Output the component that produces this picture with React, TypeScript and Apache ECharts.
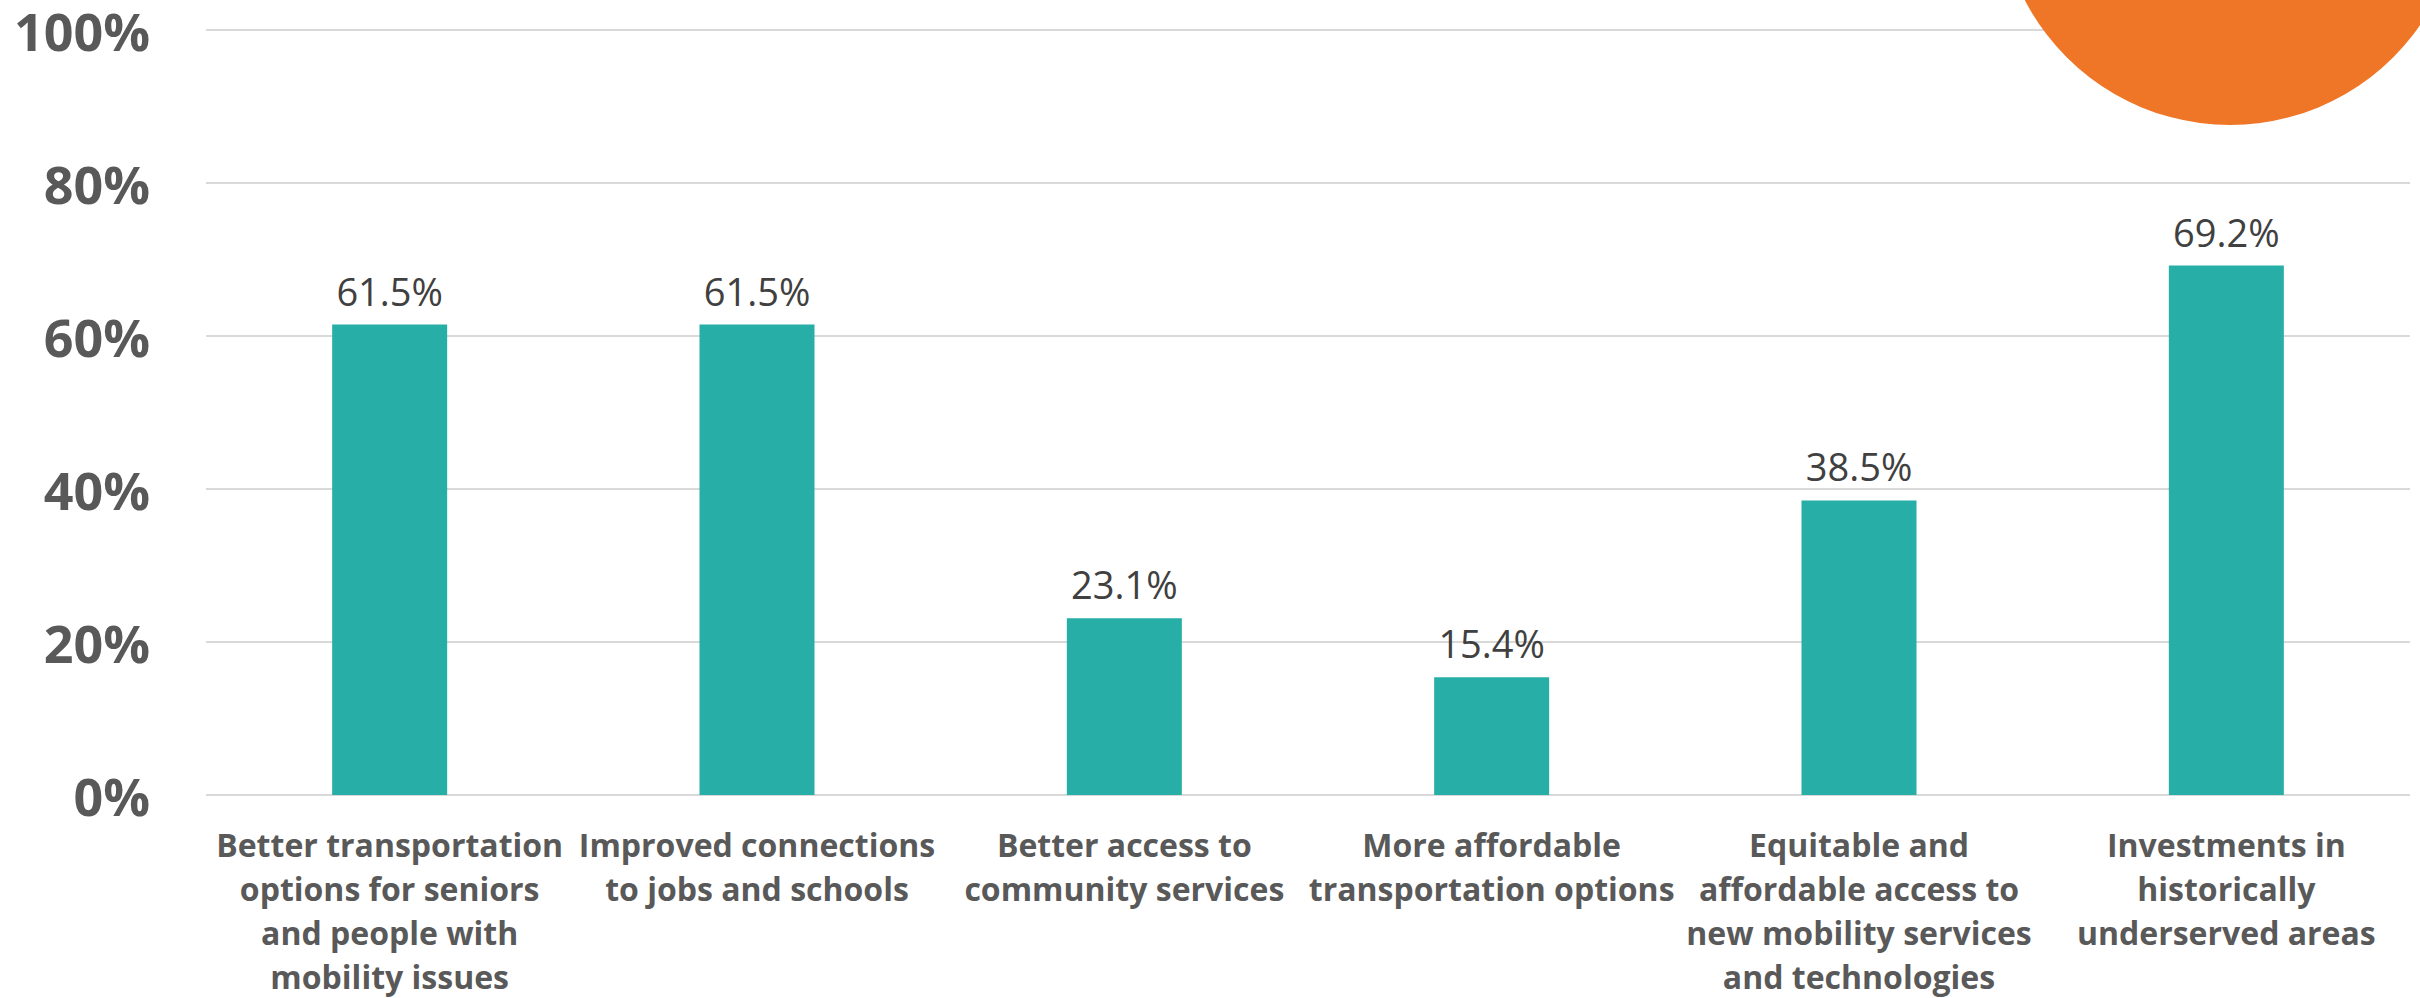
import React, { useEffect, useRef } from "react";
import * as echarts from "echarts";

const categories = [
  "Better transportation\noptions for seniors\nand people with\nmobility issues",
  "Improved connections\nto jobs and schools",
  "Better access to\ncommunity services",
  "More affordable\ntransportation options",
  "Equitable and\naffordable access to\nnew mobility services\nand technologies",
  "Investments in\nhistorically\nunderserved areas",
];
const values = [61.5, 61.5, 23.1, 15.4, 38.5, 69.2];
const yTicks = { min: 0, max: 100, interval: 20 };

export default function App() {
  const ref = useRef<HTMLDivElement>(null);
  useEffect(() => {
    if (!ref.current) return;
    const chart = echarts.init(ref.current, null, { renderer: "svg" });
    chart.setOption({
      animation: false,
      backgroundColor: "#ffffff",
      grid: { left: 206, right: 10, top: 30, bottom: 196, containLabel: false },
      xAxis: {
        type: "category",
        data: categories,
        axisLine: { show: false },
        axisTick: { show: false },
        axisLabel: {
          interval: 0,
          margin: 27,
          color: "#595959",
          fontFamily: "Open Sans",
          fontWeight: "bold",
          fontSize: 32,
          lineHeight: 44,
          align: "center",
        },
      },
      yAxis: {
        type: "value",
        min: yTicks.min,
        max: yTicks.max,
        interval: yTicks.interval,
        axisLine: { show: false },
        axisTick: { show: false },
        splitLine: { lineStyle: { color: "#d9d9d9", width: 2 } },
        axisLabel: {
          formatter: "{value}%",
          margin: 56,
          color: "#595959",
          fontFamily: "Open Sans",
          fontWeight: "bold",
          fontSize: 52,
          lineHeight: 52,
        },
      },
      series: [
        {
          type: "bar",
          data: values,
          barWidth: 115,
          itemStyle: { color: "#27AEA6" },
          label: {
            show: true,
            position: "top",
            distance: 15,
            formatter: (p: any) => p.value.toFixed(1) + "%",
            color: "#404040",
            fontFamily: "Open Sans",
            fontSize: 38,
          },
        },
      ],
      graphic: [
        {
          type: "circle",
          shape: { cx: 2230, cy: -106, r: 231 },
          style: { fill: "#EF7627" },
          z: 100,
        },
      ],
    });
    return () => chart.dispose();
  }, []);
  return (
    <div
      ref={ref}
      style={{ position: "fixed", left: 0, top: 0, width: 2420, height: 998 }}
    />
  );
}
